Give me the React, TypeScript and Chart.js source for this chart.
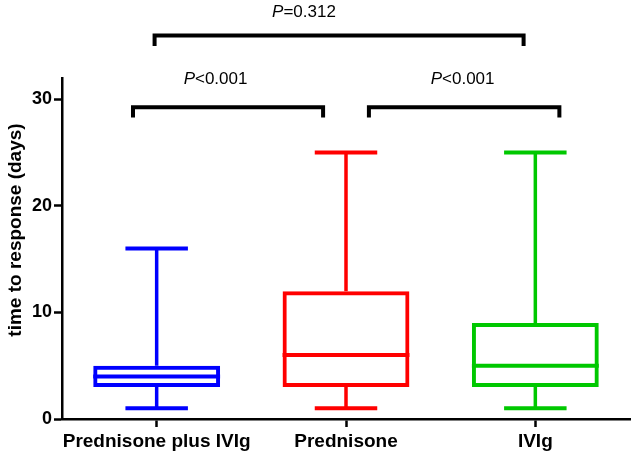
import React, { useEffect, useRef } from "react";
import { Chart, registerables } from "chart.js";

Chart.register(...registerables);

// ---- data ----
const categories = ["Prednisone plus IVIg", "Prednisone", "IVIg"];
const minValues = [1, 1, 1];
const q1Values = [3, 3, 3];
const medianValues = [4, 6, 5];
const q3Values = [5, 12, 9];
const maxValues = [16, 25, 25];
const seriesColors = ["#0000FF", "#FF0000", "#00C800"];
const yTickValues = [0, 10, 20, 30];
const yMin = 0;
const yMax = 32;
const yTitle = "time to response (days)";

// pairwise comparisons
const compFrom = [0, 1, 0];
const compTo = [1, 2, 2];
const compOperator = ["<", "<", "="];
const compPValue = ["0.001", "0.001", "0.312"];

const FONT = '"Liberation Sans", Arial, Helvetica, sans-serif';

// ---- drawing geometry (styles / placements, not data) ----
const bracketStyle = [
  { dx1: -0.125, dx2: -0.121, level: 29.25, drop: 0.95, textX: 0.311, textY: 31.4 },
  { dx1: 0.121, dx2: 0.127, level: 29.25, drop: 0.95, textX: 1.616, textY: 31.4 },
  { dx1: -0.011, dx2: -0.062, level: 36.0, drop: 1.0, textX: 0.778, textY: 37.7 },
];
const capFraction = 0.33;

const boxPlugin = {
  id: "boxWhiskers",
  afterDatasetsDraw(chart: any) {
    const xs = chart.scales.x;
    const ys = chart.scales.y;
    const ctx = chart.ctx;
    const meta = chart.getDatasetMeta(0);
    ctx.save();
    ctx.lineCap = "butt";
    categories.forEach((_, i) => {
      const el = meta.data[i];
      const cx = xs.getPixelForValue(i);
      const half = el.width / 2;
      const capHalf = xs.getPixelForValue(i + capFraction / 2) - cx;
      const pMin = ys.getPixelForValue(minValues[i]);
      const pQ1 = ys.getPixelForValue(q1Values[i]);
      const pMed = ys.getPixelForValue(medianValues[i]);
      const pQ3 = ys.getPixelForValue(q3Values[i]);
      const pMax = ys.getPixelForValue(maxValues[i]);
      ctx.strokeStyle = seriesColors[i];
      ctx.lineWidth = 3.5;
      ctx.beginPath();
      ctx.moveTo(cx, pQ3);
      ctx.lineTo(cx, pMax);
      ctx.moveTo(cx, pQ1);
      ctx.lineTo(cx, pMin);
      ctx.stroke();
      ctx.lineWidth = 4;
      ctx.beginPath();
      ctx.moveTo(cx - capHalf, pMax);
      ctx.lineTo(cx + capHalf, pMax);
      ctx.moveTo(cx - capHalf, pMin);
      ctx.lineTo(cx + capHalf, pMin);
      ctx.moveTo(el.x - half, pMed);
      ctx.lineTo(el.x + half, pMed);
      ctx.stroke();
    });
    ctx.restore();
  },
  afterDraw(chart: any) {
    const xs = chart.scales.x;
    const ys = chart.scales.y;
    const ctx = chart.ctx;
    ctx.save();
    ctx.strokeStyle = "#000";
    ctx.fillStyle = "#000";
    ctx.lineWidth = 4;
    ctx.lineJoin = "miter";
    ctx.lineCap = "butt";
    compFrom.forEach((from, k) => {
      const st = bracketStyle[k];
      const xa = xs.getPixelForValue(from + st.dx1);
      const xb = xs.getPixelForValue(compTo[k] + st.dx2);
      const yl = ys.getPixelForValue(st.level);
      const ye = ys.getPixelForValue(st.level - st.drop);
      ctx.beginPath();
      ctx.moveTo(xa, ye);
      ctx.lineTo(xa, yl);
      ctx.lineTo(xb, yl);
      ctx.lineTo(xb, ye);
      ctx.stroke();
      const italicFont = `italic 17px ${FONT}`;
      const normalFont = `17px ${FONT}`;
      const rest = compOperator[k] + compPValue[k];
      ctx.font = italicFont;
      const wP = ctx.measureText("P").width;
      ctx.font = normalFont;
      const wR = ctx.measureText(rest).width;
      const tx = xs.getPixelForValue(st.textX);
      const ty = ys.getPixelForValue(st.textY);
      const left = tx - (wP + wR) / 2;
      ctx.textBaseline = "alphabetic";
      ctx.textAlign = "left";
      ctx.font = italicFont;
      ctx.fillText("P", left, ty);
      ctx.font = normalFont;
      ctx.fillText(rest, left + wP, ty);
    });
    ctx.font = `bold 19px ${FONT}`;
    ctx.textAlign = "center";
    ctx.textBaseline = "alphabetic";
    ctx.translate(21, 230);
    ctx.rotate(-Math.PI / 2);
    ctx.fillText(yTitle, 0, 0);
    ctx.restore();
  },
};

export default function App() {
  const ref = useRef<HTMLCanvasElement | null>(null);
  useEffect(() => {
    if (!ref.current) return;
    const axisGrid = {
      display: true,
      drawOnChartArea: false,
      drawTicks: true,
      tickLength: 8,
      tickWidth: 2.5,
      tickColor: "#000",
      offset: false,
    };
    const chart = new Chart(ref.current, {
      type: "bar",
      data: {
        labels: categories,
        datasets: [
          {
            data: categories.map((_, i) => [q1Values[i], q3Values[i]]) as any,
            backgroundColor: "rgba(0,0,0,0)",
            borderColor: seriesColors,
            borderWidth: 4,
            borderSkipped: false,
            barPercentage: 0.67,
            categoryPercentage: 1,
          },
        ],
      },
      options: {
        responsive: false,
        animation: false,
        devicePixelRatio: 1,
        layout: { padding: { top: 78, right: 4, left: 0, bottom: 0 } },
        plugins: { legend: { display: false }, tooltip: { enabled: false } },
        scales: {
          x: {
            type: "category",
            offset: true,
            grid: axisGrid,
            border: { display: true, color: "#000", width: 2.5 },
            ticks: {
              color: "#000",
              font: { family: FONT, size: 19, weight: "bold" },
              padding: 3,
              maxRotation: 0,
              autoSkip: false,
            },
            afterFit: (s: any) => {
              s.height = 36;
            },
          },
          y: {
            type: "linear",
            min: yMin,
            max: yMax,
            grid: axisGrid,
            border: { display: true, color: "#000", width: 2.5 },
            ticks: {
              color: "#000",
              font: { family: FONT, size: 18, weight: "bold" },
              padding: 2,
            },
            afterBuildTicks: (s: any) => {
              s.ticks = yTickValues.map((v) => ({ value: v }));
            },
            afterFit: (s: any) => {
              s.width = 62;
            },
          },
        },
      } as any,
      plugins: [boxPlugin],
    });
    return () => chart.destroy();
  }, []);
  return (
    <div style={{ position: "fixed", left: 0, top: 0, width: 634, height: 455, background: "#fff" }}>
      <canvas ref={ref} width={634} height={455} style={{ display: "block" }} />
    </div>
  );
}
